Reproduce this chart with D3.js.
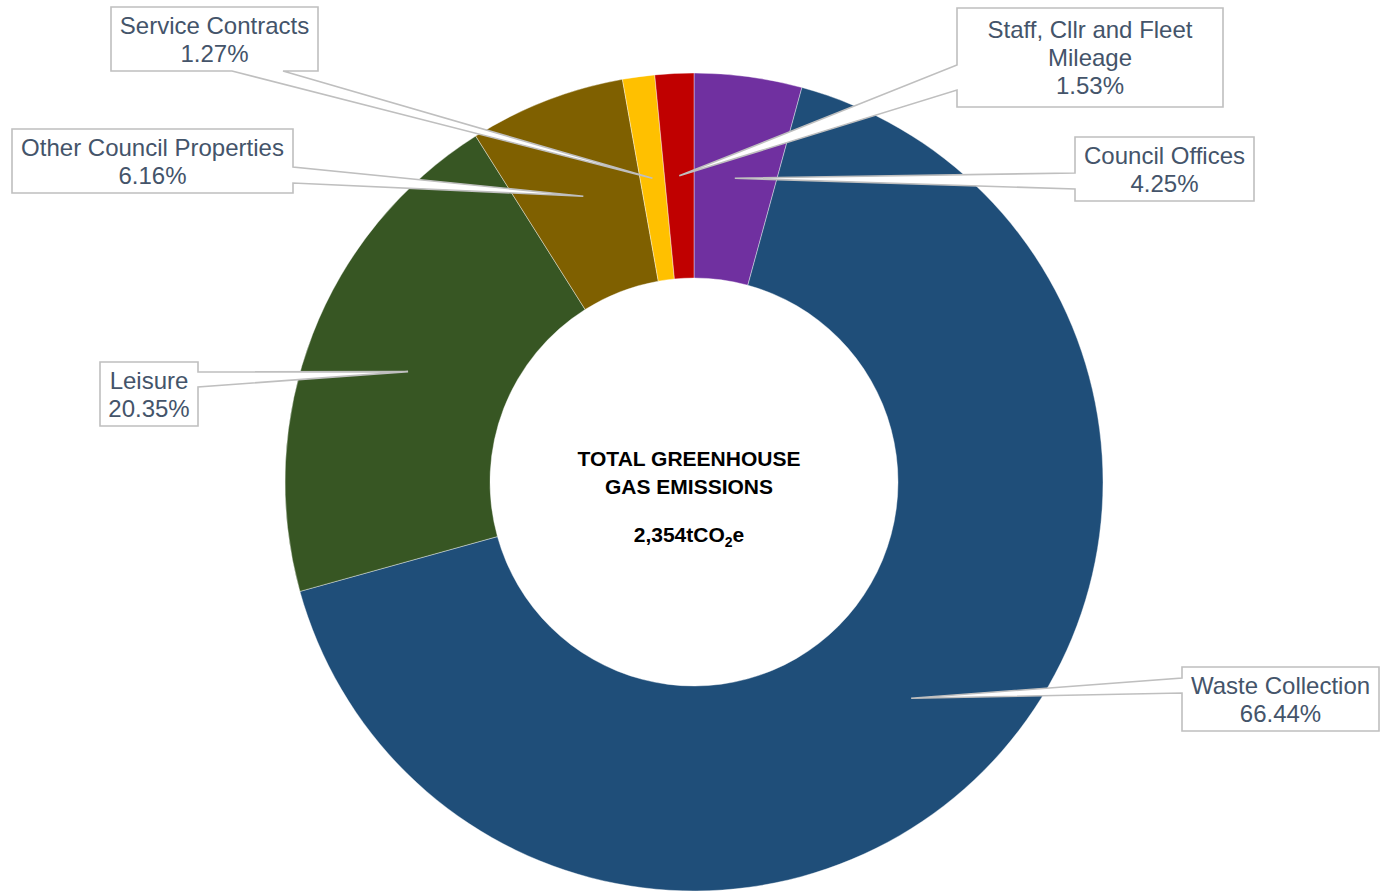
<!DOCTYPE html>
<html>
<head>
<meta charset="utf-8">
<script src="https://cdn.jsdelivr.net/npm/d3@7"></script>
<style>
  html, body { margin: 0; padding: 0; background: #ffffff; }
  svg { display: block; }
  text { font-family: "Liberation Sans", Arial, sans-serif; }
</style>
</head>
<body>
<svg id="chart" width="1380" height="893"></svg>
<script>
// ---- data ----
const categories = [
  "Council Offices",
  "Waste Collection",
  "Leisure",
  "Other Council Properties",
  "Service Contracts",
  "Staff, Cllr and Fleet Mileage"
];
const shares = [4.25, 66.44, 20.35, 6.16, 1.27, 1.53]; // percent of total
const centerTitle = ["TOTAL GREENHOUSE", "GAS EMISSIONS"];
const totalValue = "2,354";
const totalUnit = ["tCO", "2", "e"];

// ---- styles / layout (not data) ----
const colors = ["#7030A0", "#1F4E79", "#375623", "#7F6000", "#FFC000", "#C00000"];
// callout box rectangles [x0, y0, x1, y1], side the pointer leaves from, pointer base along that side
const calloutLayout = [
  { box: [1075, 137, 1254, 201], side: "left",   base: [173, 189] },
  { box: [1182, 667, 1379, 731], side: "left",   base: [678, 693] },
  { box: [100, 362, 198, 426],   side: "right",  base: [372, 387] },
  { box: [12, 129, 293, 193],    side: "right",  base: [167, 183] },
  { box: [111, 7, 318, 71],      side: "bottom", base: [232, 283] },
  { box: [957, 8, 1223, 107],    side: "left",   base: [65, 90] }
];

const W = 1380, H = 893;
const cx = 694, cy = 482;
const outerR = 409, innerR = 204;
const svg = d3.select("#chart");

const data = categories.map((c, i) => ({ name: c, value: shares[i], color: colors[i], layout: calloutLayout[i] }));

const pie = d3.pie().sort(null).value(d => d.value);
const arc = d3.arc().innerRadius(innerR).outerRadius(outerR);
const arcs = pie(data);

const g = svg.append("g").attr("transform", `translate(${cx},${cy})`);
g.selectAll("path.slice")
  .data(arcs)
  .join("path")
  .attr("class", "slice")
  .attr("d", arc)
  .attr("fill", d => d.data.color)
  .attr("stroke", "#ffffff")
  .attr("stroke-width", 0.4);

// ---- center text ----
const ct = svg.append("g").attr("transform", `translate(${cx - 5},0)`);
ct.selectAll("text.title")
  .data(centerTitle)
  .join("text")
  .attr("class", "title")
  .attr("x", 0)
  .attr("y", (d, i) => 466 + i * 28)
  .attr("text-anchor", "middle")
  .attr("font-size", 21)
  .attr("font-weight", "bold")
  .attr("fill", "#000000")
  .text(d => d);

const tv = ct.append("text")
  .attr("x", 0)
  .attr("y", 542)
  .attr("text-anchor", "middle")
  .attr("font-size", 21)
  .attr("font-weight", "bold")
  .attr("fill", "#000000");
tv.append("tspan").text(totalValue + totalUnit[0]);
tv.append("tspan").attr("font-size", 14).attr("dy", 5).text(totalUnit[1]);
tv.append("tspan").attr("dy", -5).text(totalUnit[2]);

// ---- callouts ----
function calloutPath(L, tip) {
  const [x0, y0, x1, y1] = L.box;
  const [b1, b2] = L.base;
  const p = [];
  p.push([x0, y0], [x1, y0]);
  if (L.side === "right") p.push([x1, b1], tip, [x1, b2]);
  p.push([x1, y1]);
  if (L.side === "bottom") p.push([b2, y1], tip, [b1, y1]);
  p.push([x0, y1]);
  if (L.side === "left") p.push([x0, b2], tip, [x0, b1]);
  return "M" + p.map(q => q[0] + "," + q[1]).join("L") + "Z";
}

const labelFont = 24, lineGap = 28;
const cg = svg.append("g");
arcs.forEach(a => {
  const L = a.data.layout;
  const c = arc.centroid(a);
  const tip = [cx + c[0], cy + c[1]];
  cg.append("path")
    .attr("d", calloutPath(L, tip))
    .attr("fill", "#ffffff")
    .attr("stroke", "#BFBFBF")
    .attr("stroke-width", 1.6)
    .attr("stroke-linejoin", "miter");

  const [x0, y0, x1, y1] = L.box;
  const maxW = (x1 - x0) - 4;
  // word-wrap the category name to the box width
  const t = cg.append("text")
    .attr("text-anchor", "middle")
    .attr("font-size", labelFont)
    .attr("fill", "#44546A");
  const words = a.data.name.split(" ");
  const lines = [];
  let cur = "";
  const probe = t.append("tspan");
  words.forEach(w => {
    const test = cur ? cur + " " + w : w;
    probe.text(test);
    if (probe.node().getComputedTextLength() > maxW && cur) {
      lines.push(cur);
      cur = w;
    } else cur = test;
  });
  lines.push(cur);
  probe.remove();
  lines.push(d3.format(".2f")(a.data.value) + "%");
  const midY = (y0 + y1) / 2;
  const startY = midY - (lines.length - 1) * lineGap / 2;
  lines.forEach((ln, i) => {
    t.append("tspan")
      .attr("x", (x0 + x1) / 2)
      .attr("y", startY + i * lineGap)
      .attr("dy", "0.36em")
      .text(ln);
  });
});
</script>
</body>
</html>
